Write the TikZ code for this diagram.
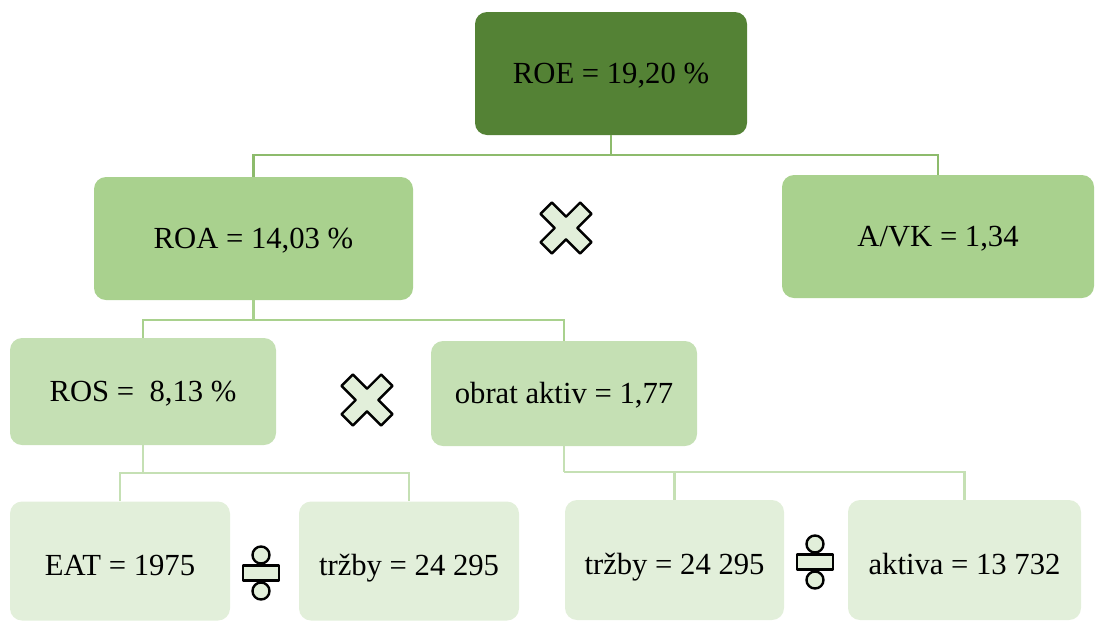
\documentclass[tikz,border=0pt]{standalone}
\usepackage{fontspec}
\setmainfont{Liberation Serif}
\definecolor{lvA}{HTML}{548235}
\definecolor{lvB}{HTML}{A9D18E}
\definecolor{lvC}{HTML}{C5E0B4}
\definecolor{lvD}{HTML}{E2EFDA}
\definecolor{lnA}{HTML}{8DBB6C}
\tikzset{
  x=0.75pt, y=-0.75pt,
  card/.style={draw=none, rounded corners=9pt, inner sep=0pt,
    font=\fontsize{23}{27}\selectfont, text=black,
    text height=18.5pt, text depth=3.5pt},
  lowcard/.style={card, text height=21pt, text depth=0pt},
  linkA/.style={draw=lnA, line width=2pt},
  linkB/.style={draw=lvB, line width=2pt},
  linkC/.style={draw=lvC, line width=2pt},
  opsign/.style={draw=black, line width=1.8pt, fill=lvD, line join=round},
  pics/timessign/.style={code={
    \draw[opsign, rotate=45] (8,8) -- (8,28) -- (-8,28) -- (-8,8) -- (-28,8)
      -- (-28,-8) -- (-8,-8) -- (-8,-28) -- (8,-28) -- (8,-8) -- (28,-8)
      -- (28,8) -- cycle;
  }},
  pics/divsign/.style={code={
    \draw[opsign] (-18,-7.5) rectangle (18,7.5);
    \draw[opsign] (0,-18) circle[radius=8.5*0.75pt];
    \draw[opsign] (0,18) circle[radius=8.5*0.75pt];
  }}
}
\begin{document}
\begin{tikzpicture}
\useasboundingbox (0,0) rectangle (1095,622);

% level 1
\node[card, fill=lvA, minimum width=272*0.75pt, minimum height=123*0.75pt]
  (roe) at (611,73.5) {ROE = 19,20 \%};

% level 2
\node[card, fill=lvB, minimum width=319*0.75pt, minimum height=123*0.75pt]
  (roa) at (253.5,238.5) {ROA = 14,03 \%};
\node[card, fill=lvB, minimum width=312*0.75pt, minimum height=123*0.75pt]
  (avk) at (938,236.5) {A/VK = 1,34};

% level 3
\node[card, fill=lvC, minimum width=266*0.75pt, minimum height=107*0.75pt]
  (ros) at (143,391.5) {ROS = \ 8,13 \%};
\node[card, fill=lvC, minimum width=266*0.75pt, minimum height=105*0.75pt]
  (obr) at (564,393.5) {obrat aktiv = 1,77};

% level 4
\node[lowcard, fill=lvD, minimum width=220*0.75pt, minimum height=119*0.75pt]
  (eat) at (120,561) {EAT = 1975};
\node[lowcard, fill=lvD, minimum width=220*0.75pt, minimum height=119*0.75pt]
  (trz) at (409,561) {tržby = 24 295};
\node[lowcard, fill=lvD, minimum width=219*0.75pt, minimum height=120*0.75pt]
  (trzb) at (674.5,560) {tržby = 24 295};
\node[lowcard, fill=lvD, minimum width=233*0.75pt, minimum height=120*0.75pt]
  (akt) at (964.5,560) {aktiva = 13 732};

% branch points of the connectors
\coordinate (jA) at (611,155);
\coordinate (jB) at (254,320);
\coordinate (jC) at (143,473);
\coordinate (jD) at (564,472);

% connectors
\draw[linkA] (roe.south) -- (roe.south |- jA);
\draw[linkA] (roa.north) |- (jA) -| (avk.north);
\draw[linkB] (roa.south) -- (roa.south |- jB);
\draw[linkB] (ros.north) |- (jB) -| (obr.north);
\draw[linkC] (ros.south) -- (ros.south |- jC);
\draw[linkC] (eat.north) |- (jC) -| (trz.north);
\draw[linkC] (obr.south) -- (obr.south |- jD);
\draw[linkC] (trzb.north) |- (jD) -| (akt.north);

% operator signs
\pic at (566,228) {timessign};
\pic at (367,400) {timessign};
\pic at (261,573) {divsign};
\pic at (815,562) {divsign};
\end{tikzpicture}
\end{document}
